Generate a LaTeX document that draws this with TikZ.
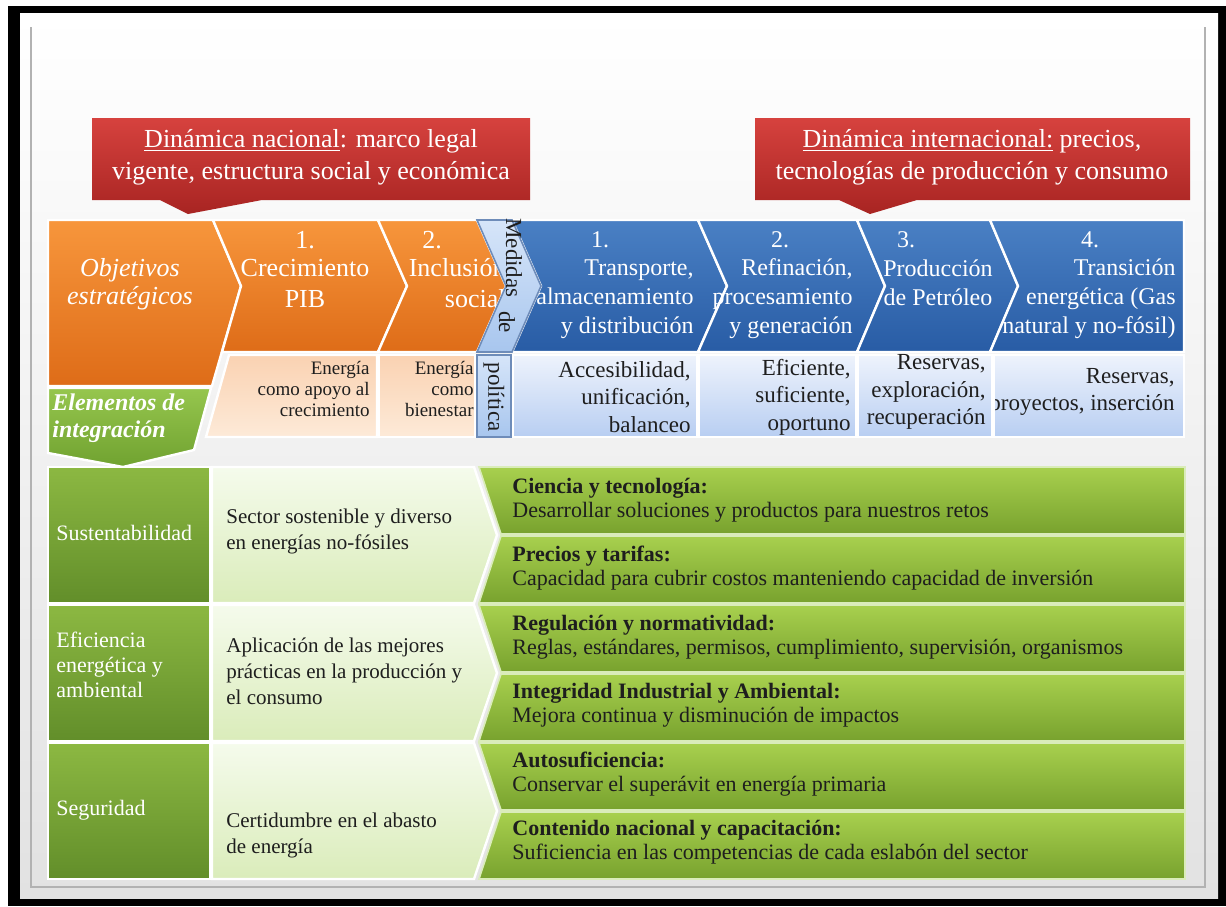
\documentclass[tikz,border=0pt]{standalone}
\usepackage{fontspec}
\setmainfont{Liberation Serif}

\definecolor{orgtop}{RGB}{247,150,60}
\definecolor{orgbot}{RGB}{222,108,24}
\definecolor{peachtop}{RGB}{250,210,178}
\definecolor{peachbot}{RGB}{253,234,216}
\definecolor{blutop}{RGB}{74,128,196}
\definecolor{blubot}{RGB}{40,92,165}
\definecolor{skytop}{RGB}{238,243,252}
\definecolor{skybot}{RGB}{184,206,242}
\definecolor{medtop}{RGB}{214,229,249}
\definecolor{medbot}{RGB}{168,198,238}
\definecolor{medline}{RGB}{110,140,185}
\definecolor{redtop}{RGB}{214,66,62}
\definecolor{redbot}{RGB}{168,36,34}
\definecolor{elemtop}{RGB}{150,198,78}
\definecolor{elembot}{RGB}{112,162,48}
\definecolor{dgtop}{RGB}{140,184,66}
\definecolor{dgbot}{RGB}{98,142,42}
\definecolor{pgtop}{RGB}{245,251,236}
\definecolor{pgbot}{RGB}{218,236,186}
\definecolor{gstop}{RGB}{168,208,78}
\definecolor{gsbot}{RGB}{120,162,46}
\definecolor{bgbot}{RGB}{226,226,226}
\definecolor{ink}{RGB}{30,30,30}

\begin{document}
\begin{tikzpicture}[
    x=0.5pt, y=-0.5pt,
    chev/.style = {draw=white, line width=1.2pt},
    orangechev/.style = {chev, top color=orgtop, bottom color=orgbot},
    bluechev/.style = {chev, top color=blutop, bottom color=blubot},
    peachcell/.style = {chev, top color=peachtop, bottom color=peachbot},
    skycell/.style = {chev, top color=skytop, bottom color=skybot},
    medidas/.style = {draw=medline, line width=0.8pt, top color=medtop, bottom color=medbot},
    callout/.style = {top color=redtop, bottom color=redbot},
    greencell/.style = {chev, top color=dgtop, bottom color=dgbot},
    palecell/.style = {chev, top color=pgtop, bottom color=pgbot},
    greenstrip/.style = {draw=pgbot, line width=0.8pt, top color=gstop, bottom color=gsbot},
    wtxt/.style = {inner sep=0pt, text=white},
    btxt/.style = {inner sep=0pt, text=ink},
    headtxt/.style = {wtxt, align=center, font=\fontsize{13}{16}\selectfont},
    bignum/.style = {wtxt, font=\fontsize{13}{15}\selectfont},
    chevtxt/.style = {wtxt, font=\fontsize{12}{14.5}\selectfont},
    smalltxt/.style = {btxt, align=right, font=\fontsize{9.5}{10.5}\selectfont},
    celltxt/.style = {btxt, align=right, font=\fontsize{11.5}{13.8}\selectfont},
    rowtxt/.style = {anchor=west, align=left, font=\fontsize{11}{12.5}\selectfont},
    striptxt/.style = {btxt, anchor=west, align=left, font=\fontsize{11}{12}\selectfont}
]
\useasboundingbox (0,0) rectangle (1226,906);

% slide and frame
\fill[white] (0,0) rectangle (1226,906);
\fill[black] (8,6) rectangle (1226,906);
\shade[top color=white, bottom color=bgbot] (20,13) rectangle (1218,898);
\draw[gray!60, line width=1pt] (31,27) -- (31,887) -- (1205,887) -- (1205,27);

% callouts
\path[callout] (92,118) -- (530,118) -- (530,200) -- (262,200) -- (188,214)
    -- (160,200) -- (92,200) -- cycle;
\node[headtxt] (nacional) at (311,157)
    {\underline{Dinámica nacional}: marco legal\\vigente, estructura social y económica};

\path[callout] (755,118) -- (1190,118) -- (1190,200) -- (917,200) -- (870,214)
    -- (839,200) -- (755,200) -- cycle;
\node[headtxt] (internacional) at (972,157)
    {\underline{Dinámica internacional:} precios,\\tecnologías de producción y consumo};

% objetivos and elementos
\path[orangechev] (48,220) -- (213,220) -- (241,286) -- (212,386) -- (48,386) -- cycle;
\path[chev, top color=elemtop, bottom color=elembot]
    (48,388) -- (211,388) -- (194,450) -- (123,467) -- (48,453) -- cycle;
\node[wtxt, align=center, font=\fontsize{13}{14}\itshape] (objetivos) at (130,284)
    {Objetivos\\estratégicos};
\node[wtxt, anchor=west, align=left, font=\fontsize{12}{13.5}\bfseries\itshape] (elementos)
    at (52,418) {Elementos de\\integración};

% orange chevrons
\path[orangechev] (213,220) -- (378,220) -- (407,286) -- (378,352) -- (222,352)
    -- (241,286) -- cycle;
\path[orangechev] (378,220) -- (477,220) -- (506,286) -- (477,352) -- (378,352)
    -- (407,286) -- cycle;
\node[bignum] (crecnum) at (305,240) {1.};
\node[wtxt, align=center, font=\fontsize{13}{15.5}\selectfont] (crec) at (305,283)
    {Crecimiento\\PIB};
\node[bignum] (inclnum) at (432,240) {2.};
\node[wtxt, anchor=east, align=right, font=\fontsize{13}{15.5}\selectfont] (incl)
    at (506,283) {Inclusión\\social};

% blue chevrons
\path[bluechev] (512,220) -- (698,220) -- (727,286) -- (698,352) -- (512,352)
    -- (541,286) -- cycle;
\path[bluechev] (698,220) -- (857,220) -- (885,286) -- (857,352) -- (698,352)
    -- (727,286) -- cycle;
\path[bluechev] (857,220) -- (990,220) -- (1018,286) -- (990,352) -- (857,352)
    -- (885,286) -- cycle;
\path[bluechev] (990,220) -- (1184,220) -- (1184,352) -- (990,352) -- (1018,286) -- cycle;

\node[chevtxt] (transnum) at (600,240) {1.};
\node[chevtxt, anchor=east, align=right] (transp) at (694,299)
    {Transporte,\\almacenamiento\\y distribución};
\node[chevtxt] (refnum) at (780,240) {2.};
\node[chevtxt, anchor=east, align=right] (refin) at (853,299)
    {Refinación,\\procesamiento\\y generación};
\node[chevtxt] (prodnum) at (906,240) {3.};
\node[chevtxt, align=center] (prod) at (938,283) {Producción\\de Petróleo};
\node[chevtxt] (trannum) at (1090,240) {4.};
\node[chevtxt, anchor=east, align=right] (transic) at (1176,299)
    {Transición\\energética (Gas\\natural y no-fósil)};

% medidas de politica
\path[medidas] (477,220) -- (512,220) -- (541,286) -- (512,352) -- (477,352)
    -- (506,286) -- cycle;
\path[medidas] (477,355) rectangle (511,437);
\node[btxt, rotate=-90, font=\fontsize{11.5}{12}\selectfont] (medid) at (514,258) {Medidas};
\node[btxt, rotate=-90, font=\fontsize{11.5}{12}\selectfont] (de) at (507,322) {de};
\node[btxt, rotate=-90, font=\fontsize{11.5}{12}\selectfont] (politica) at (494,397) {política};

% lower cells
\path[peachcell] (229,355) -- (377,355) -- (377,437) -- (206,437) -- cycle;
\path[peachcell] (379,355) rectangle (475,437);
\path[skycell] (513,355) rectangle (697,437);
\path[skycell] (699,355) rectangle (856,437);
\path[skycell] (858,355) rectangle (992,437);
\path[skycell] (994,355) rectangle (1184,437);

\node[smalltxt, anchor=east] (apoyo) at (370,389) {Energía\\como apoyo al\\crecimiento};
\node[smalltxt, anchor=east] (bienestar) at (474,389) {Energía\\como\\bienestar};
\node[celltxt, anchor=east] (acces) at (691,397) {Accesibilidad,\\unificación,\\balanceo};
\node[celltxt, anchor=east] (efic) at (851,397) {Eficiente,\\suficiente,\\oportuno};
\node[celltxt, anchor=east] (reserv) at (986,392) {Reservas,\\exploración,\\recuperación};
\begin{scope}
  \clip (995,355) rectangle (1184,437);
  \node[celltxt, anchor=east] (proyect) at (1175,392) {Reservas,\\proyectos, inserción};
\end{scope}

% integration rows
\path[greencell] (48,467) rectangle (210,603);
\path[greencell] (48,605) rectangle (210,741);
\path[greencell] (48,743) rectangle (210,879);
\path[palecell] (212,467) -- (474,467) -- (497,535) -- (474,603) -- (212,603) -- cycle;
\path[palecell] (212,605) -- (474,605) -- (497,673) -- (474,741) -- (212,741) -- cycle;
\path[palecell] (212,743) -- (474,743) -- (497,811) -- (474,879) -- (212,879) -- cycle;

\node[wtxt, rowtxt] (sust) at (56,533) {Sustentabilidad};
\node[wtxt, rowtxt] (efen) at (56,665) {Eficiencia\\energética y\\ambiental};
\node[wtxt, rowtxt] (segur) at (56,810) {Seguridad};
\node[btxt, rowtxt, font=\fontsize{10.5}{13}\selectfont] (sector) at (226,531)
    {Sector sostenible y diverso\\en energías no-fósiles};
\node[btxt, rowtxt, font=\fontsize{10.5}{13}\selectfont] (practicas) at (226,671)
    {Aplicación de las mejores\\prácticas en la producción y\\el consumo};
\node[btxt, rowtxt, font=\fontsize{10.5}{13}\selectfont] (abasto) at (226,835)
    {Certidumbre en el abasto\\de energía};

% policy strips
\path[greenstrip] (479,467) -- (1185,467) -- (1185,534) -- (501,534) -- cycle;
\path[greenstrip] (501,536) -- (1185,536) -- (1185,603) -- (479,603) -- cycle;
\path[greenstrip] (479,605) -- (1185,605) -- (1185,672) -- (501,672) -- cycle;
\path[greenstrip] (501,674) -- (1185,674) -- (1185,741) -- (479,741) -- cycle;
\path[greenstrip] (479,743) -- (1185,743) -- (1185,810) -- (501,810) -- cycle;
\path[greenstrip] (501,812) -- (1185,812) -- (1185,879) -- (479,879) -- cycle;

\node[striptxt] (ciencia) at (512,500)
    {\textbf{Ciencia y tecnología:}\\Desarrollar soluciones y productos para nuestros retos};
\node[striptxt] (precios) at (512,568)
    {\textbf{Precios y tarifas:}\\Capacidad para cubrir costos manteniendo capacidad de inversión};
\node[striptxt] (regul) at (512,637)
    {\textbf{Regulación y normatividad:}\\Reglas, estándares, permisos, cumplimiento, supervisión, organismos};
\node[striptxt] (integr) at (512,705)
    {\textbf{Integridad Industrial y Ambiental:}\\Mejora continua y disminución de impactos};
\node[striptxt] (autosuf) at (512,774)
    {\textbf{Autosuficiencia:}\\Conservar el superávit en energía primaria};
\node[striptxt] (contenido) at (512,842)
    {\textbf{Contenido nacional y capacitación:}\\Suficiencia en las competencias de cada eslabón del sector};

\end{tikzpicture}
\end{document}
